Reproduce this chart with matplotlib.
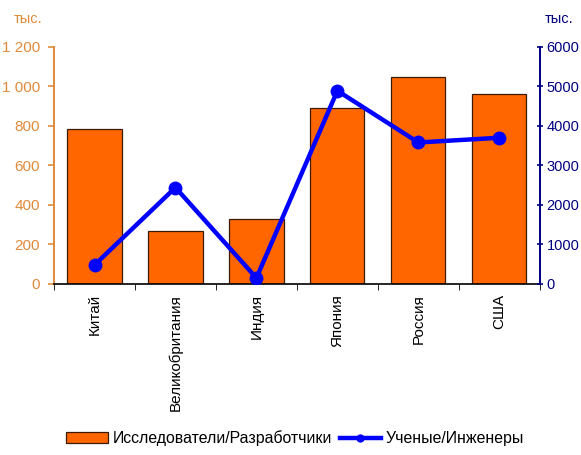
import numpy as np
import matplotlib.pyplot as plt
from matplotlib.ticker import FixedLocator, FuncFormatter

plt.rcParams['font.family'] = ['Liberation Sans', 'DejaVu Sans']

countries = ['Китай', 'Великобритания', 'Индия', 'Япония', 'Россия', 'США']
researchers = [785, 270, 330, 890, 1048, 962]       # left axis, тыс.
engineers = [480, 2440, 150, 4890, 3580, 3700]      # right axis, тыс.

bar_color = '#FF6600'
left_color = '#E08A3C'
right_color = '#000080'
line_color = '#0000FF'

fig = plt.figure(figsize=(5.81, 4.55), dpi=100)
ax = fig.add_axes([0.093, 0.376, 0.836, 0.521])
ax2 = ax.twinx()

x = np.arange(len(countries))
bars = ax.bar(x, researchers, width=0.67, color=bar_color,
              edgecolor='#3a1a00', linewidth=0.9, zorder=2)
line, = ax2.plot(x, engineers, color=line_color, lw=3.2, marker='o',
                 markersize=10, markeredgewidth=0, zorder=3)

ax.set_xlim(-0.5, len(countries) - 0.5)
ax.set_ylim(0, 1200)
ax2.set_ylim(0, 6000)

ax.set_yticks(np.arange(0, 1201, 200))
ax.yaxis.set_major_formatter(FuncFormatter(lambda v, p: f'{int(v):,}'.replace(',', ' ')))
ax2.set_yticks(np.arange(0, 6001, 1000))

# category labels centred, ticks sit between the categories
ax.set_xticks(x)
ax.set_xticklabels(countries, rotation=90, fontsize=11)
ax.tick_params(axis='x', which='major', length=0, pad=7)
ax.xaxis.set_minor_locator(FixedLocator(np.arange(-0.5, len(countries), 1.0)))
ax.tick_params(axis='x', which='minor', length=4, direction='out', color='black')

ax.tick_params(axis='y', colors=left_color, labelsize=11, length=4, pad=6)
ax2.tick_params(axis='y', colors=right_color, labelsize=10.5, length=4,
                direction='inout', width=1.2, pad=3)
ax.tick_params(axis='y', width=1.2)

for a in (ax, ax2):
    a.spines['top'].set_visible(False)
ax.spines['left'].set_color(left_color)
ax.spines['left'].set_linewidth(1.4)
ax2.spines['left'].set_visible(False)
ax2.spines['right'].set_color(right_color)
ax2.spines['right'].set_linewidth(1.4)
ax2.spines['bottom'].set_visible(False)
ax.spines['right'].set_visible(False)
ax.spines['bottom'].set_color('black')
ax.spines['bottom'].set_linewidth(1.2)

fig.text(0.048, 0.958, 'тыс.', color=left_color, fontsize=10.5, ha='center', va='center')
fig.text(0.962, 0.958, 'тыс.', color=right_color, fontsize=10.5, ha='center', va='center')

fig.legend([bars, line], ['Исследователи/Разработчики', 'Ученые/Инженеры'],
           loc='lower center', bbox_to_anchor=(0.508, -0.012), ncol=2, frameon=False,
           fontsize=11.4, handlelength=2.6, handletextpad=0.3, columnspacing=0.5,
           markerscale=0.6)

fig.savefig('out.png', dpi=100)
